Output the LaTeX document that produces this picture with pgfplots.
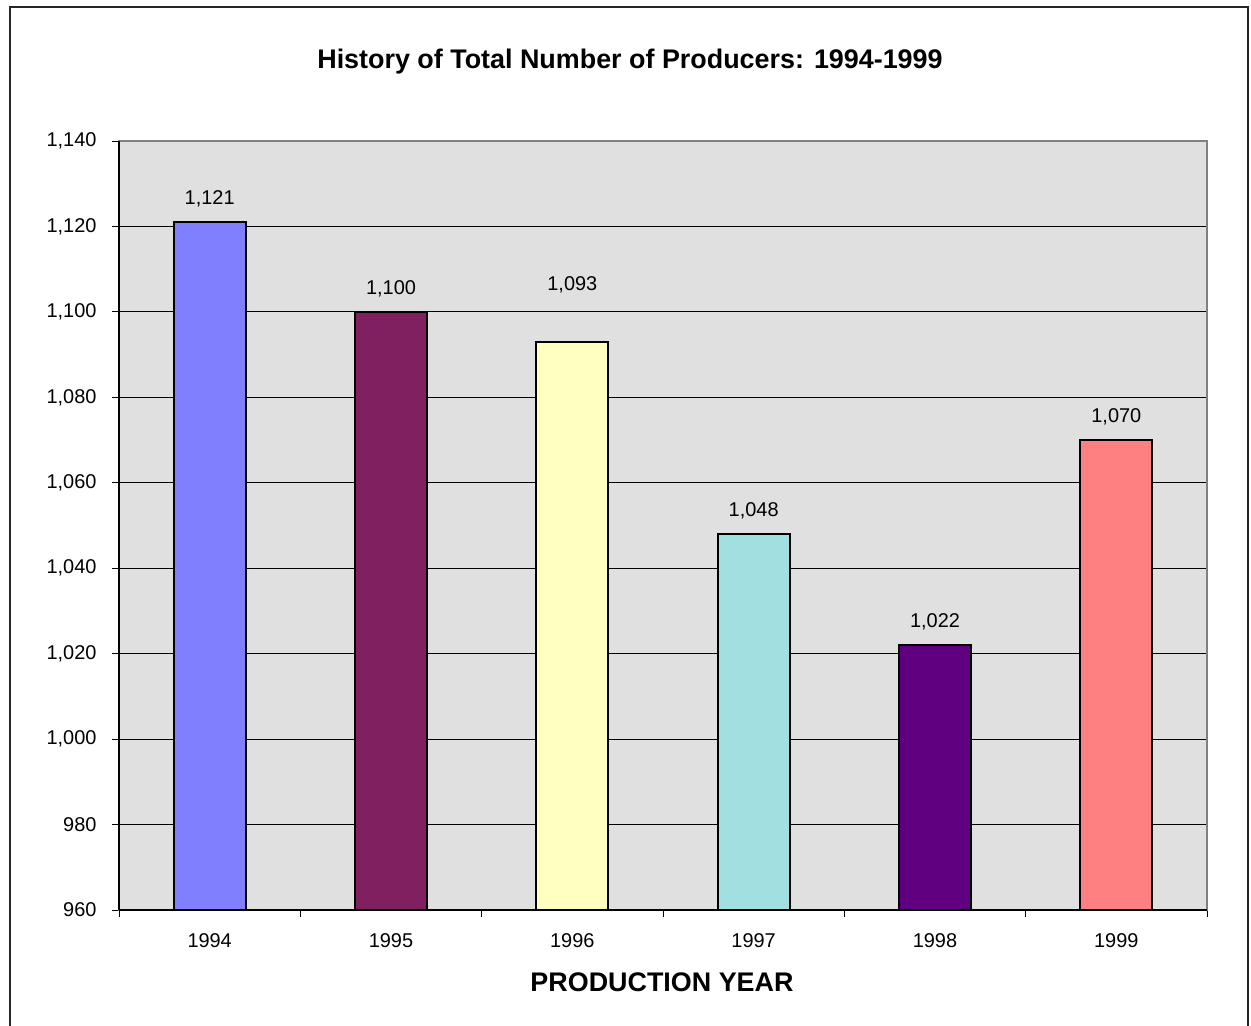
\documentclass[border=0pt]{standalone}
\usepackage{pgfplots}
\pgfplotsset{compat=1.18}
\usepackage{fontspec}
\setmainfont{Liberation Sans}
\definecolor{bgc}{RGB}{224,224,224}
\definecolor{c1}{RGB}{128,128,255}
\definecolor{c2}{RGB}{128,32,96}
\definecolor{c3}{RGB}{255,255,192}
\definecolor{c4}{RGB}{160,224,224}
\definecolor{c5}{RGB}{96,0,128}
\definecolor{c6}{RGB}{255,128,128}
\begin{document}
\begin{tikzpicture}[x=1bp,y=1bp]
\useasboundingbox (0,0) rectangle (1251,1026);
\draw[line width=1.3bp,black!85] (10,-2) -- (10,1019) -- (1248,1019) -- (1248,-2);
\node[font=\fontsize{27}{31}\selectfont\bfseries] at (630,964) {History of Total Number of Producers: 1994-1999};
\node[font=\fontsize{27}{31}\selectfont\bfseries] at (662,44) {PRODUCTION YEAR};
\begin{axis}[
  at={(119bp,116bp)}, anchor=south west,
  scale only axis, width=1088bp, height=769bp,
  xmin=-0.5, xmax=5.5, ymin=960, ymax=1140,
  ytick={960,980,...,1140},
  xtick={0,1,2,3,4,5},
  xticklabels={1994,1995,1996,1997,1998,1999},
  minor xtick={-0.5,0.5,1.5,2.5,3.5,4.5,5.5},
  major x tick style={draw=none},
  minor tick length=7bp,
  major tick length=7bp,
  tick align=outside,
  tick style={black, line width=0.8bp},
  xtick pos=bottom, ytick pos=left,
  ymajorgrids,
  grid style={black, line width=0.8bp},
  axis background/.style={fill=bgc},
  axis line style={draw=gray, line width=1.5bp},
  /pgf/number format/assume math mode=true,
  /pgf/number format/1000 sep={,},
  ticklabel style={font=\fontsize{20}{24}\selectfont},
  yticklabel style={xshift=-12bp},
  xticklabel style={yshift=-13bp},
  ybar, bar width=72bp,
  nodes near coords,
  every node near coord/.append style={font=\fontsize{20}{24}\selectfont, black, anchor=center, yshift=23bp, /pgf/number format/1000 sep={,}},
  clip=false,
]
\addplot[fill=c1, draw=black, line width=2bp, bar shift=0pt] coordinates {(0,1121)};
\addplot[fill=c2, draw=black, line width=2bp, bar shift=0pt] coordinates {(1,1100)};
\addplot[fill=c3, draw=black, line width=2bp, bar shift=0pt, every node near coord/.append style={yshift=34bp}] coordinates {(2,1093)};
\addplot[fill=c4, draw=black, line width=2bp, bar shift=0pt] coordinates {(3,1048)};
\addplot[fill=c5, draw=black, line width=2bp, bar shift=0pt] coordinates {(4,1022)};
\addplot[fill=c6, draw=black, line width=2bp, bar shift=0pt] coordinates {(5,1070)};
\draw[black, line width=1.2bp] (rel axis cs:0,0) -- (rel axis cs:0,1);
\draw[black, line width=1.2bp] (rel axis cs:0,0) -- (rel axis cs:1,0);
\end{axis}
\end{tikzpicture}
\end{document}
